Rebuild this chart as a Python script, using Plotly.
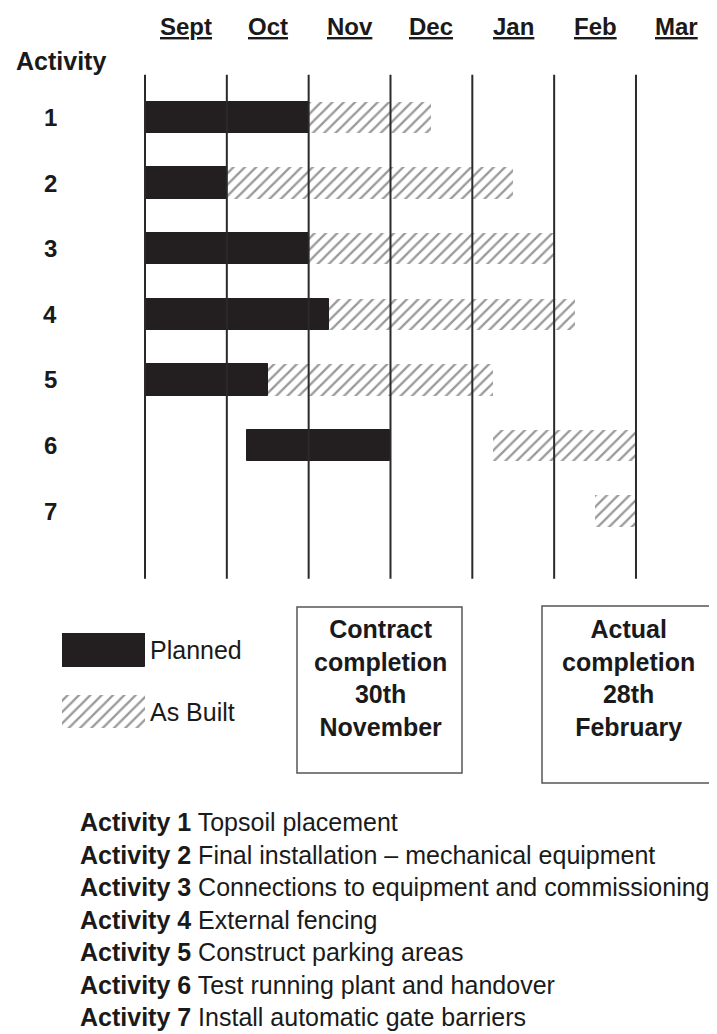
import plotly.graph_objects as go

# ---- data (months counted from 1 Sept) ----
months = ["Sept", "Oct", "Nov", "Dec", "Jan", "Feb", "Mar"]
activities = [1, 2, 3, 4, 5, 6, 7]
planned_start = [0, 0, 0, 0, 0, 1.25, None]
planned_end = [2, 1, 2, 2.25, 1.5, 3, None]
built_start = [2, 1, 2, 2.25, 1.5, 4.25, 5.5]
built_end = [3.5, 4.5, 5, 5.25, 4.25, 6, 6]
month_bounds = [0, 1, 2, 3, 4, 5, 6]
descriptions = [
    "Topsoil placement",
    "Final installation \u2013 mechanical equipment",
    "Connections to equipment and commissioning",
    "External fencing",
    "Construct parking areas",
    "Test running plant and handover",
    "Install automatic gate barriers",
]

# the page body has an 8px margin, so the figure is shrunk by that much
OFF = 8
W, H = 717 - OFF, 1034 - OFF
FONT = "Liberation Sans, Arial, sans-serif"
INK = "#1a1a1a"
HATCH = dict(shape="/", fgcolor="#333", bgcolor="white", size=8, solidity=0.28)

# pixel layout of the chart area (page pixels)
x0_px, month_px = 145, 81.83
row1_px, row_px = 117.5, 65.6


def px(x):
    return (x - OFF) / W


def py(y):
    return 1 - (y - OFF) / H


def txt(x, y, text, size=25, xanchor="center", **kw):
    d = dict(x=x, y=y, xref="paper", yref="paper", text=text, showarrow=False,
             xanchor=xanchor, yanchor="middle", font=dict(size=size, color=INK, family=FONT))
    d.update(kw)
    return d


fig = go.Figure()

# planned bars
p_rows = [a for a, s in zip(activities, planned_start) if s is not None]
p_base = [s for s in planned_start if s is not None]
p_len = [e - s for s, e in zip(planned_start, planned_end) if s is not None]
fig.add_trace(go.Bar(y=p_rows, x=p_len, base=p_base, orientation="h", width=0.48,
                     marker=dict(color="#231f20", line=dict(color="#231f20", width=1)),
                     showlegend=False, hoverinfo="skip"))

# as built bars
fig.add_trace(go.Bar(y=activities, x=[e - s for s, e in zip(built_start, built_end)],
                     base=built_start, orientation="h", width=0.48,
                     marker=dict(color="white", line=dict(width=0), pattern=HATCH),
                     showlegend=False, hoverinfo="skip"))

# month boundary lines
top_k, bot_k = 0.35, 8.03
lx, ly = [], []
for b in month_bounds:
    lx += [b, b, None]
    ly += [top_k, bot_k, None]
fig.add_trace(go.Scatter(x=lx, y=ly, mode="lines", line=dict(color="#2a2a2a", width=2),
                         showlegend=False, hoverinfo="skip"))

# legend swatches on their own small axes
fig.add_trace(go.Bar(y=[0], x=[1], orientation="h", width=0.553, xaxis="x2", yaxis="y2",
                     marker=dict(color="#231f20", line=dict(color="#231f20", width=1)),
                     showlegend=False, hoverinfo="skip"))
fig.add_trace(go.Bar(y=[1], x=[1], orientation="h", width=0.553, xaxis="x2", yaxis="y2",
                     marker=dict(color="white", line=dict(width=0), pattern=HATCH),
                     showlegend=False, hoverinfo="skip"))

ann = []
for i, m in enumerate(months):
    ann.append(txt(i + 0.5, py(26), "<b><u>%s</u></b>" % m, size=24, xref="x"))
ann.append(txt(px(61), py(61), "<b>Activity</b>"))
for a in activities:
    ann.append(txt(px(50), a, "<b>%d</b>" % a, size=24, yref="y"))

ann.append(txt(px(148), py(650), "Planned", xanchor="left"))
ann.append(txt(px(148), py(712), "As Built", xanchor="left"))

ann.append(txt(px(380), py(678), "<b>Contract<br>completion<br>30th<br>November</b>"))
ann.append(txt(px(628), py(678), "<b>Actual<br>completion<br>28th<br>February</b>"))

desc = "<br>".join("<b>Activity %d</b> %s" % (a, d) for a, d in zip(activities, descriptions))
ann.append(txt(px(78), py(919), desc, xanchor="left", align="left"))

shapes = [
    dict(type="rect", xref="paper", yref="paper", x0=px(297), x1=px(462), y0=py(607), y1=py(773),
         line=dict(color="#555", width=1.5)),
    dict(type="rect", xref="paper", yref="paper", x0=px(542), x1=px(713), y0=py(606), y1=py(783),
         line=dict(color="#555", width=1.5)),
]

fig.update_layout(
    width=W, height=H,
    margin=dict(l=0, r=0, t=0, b=0),
    paper_bgcolor="white", plot_bgcolor="white",
    barmode="overlay", bargap=0,
    showlegend=False,
    xaxis=dict(range=[(OFF - x0_px) / month_px, (OFF + W - x0_px) / month_px],
               visible=False, domain=[0, 1]),
    yaxis=dict(range=[1 + (OFF + H - row1_px) / row_px, 1 + (OFF - row1_px) / row_px],
               visible=False, domain=[0, 1]),
    xaxis2=dict(range=[0, 1], visible=False, domain=[px(62), px(145)], anchor="y2"),
    yaxis2=dict(range=[1 + 16.5 / 61.5, -17 / 61.5], visible=False,
                domain=[py(728), py(633)], anchor="x2"),
    annotations=ann,
    shapes=shapes,
)

fig.write_html("out.html")
